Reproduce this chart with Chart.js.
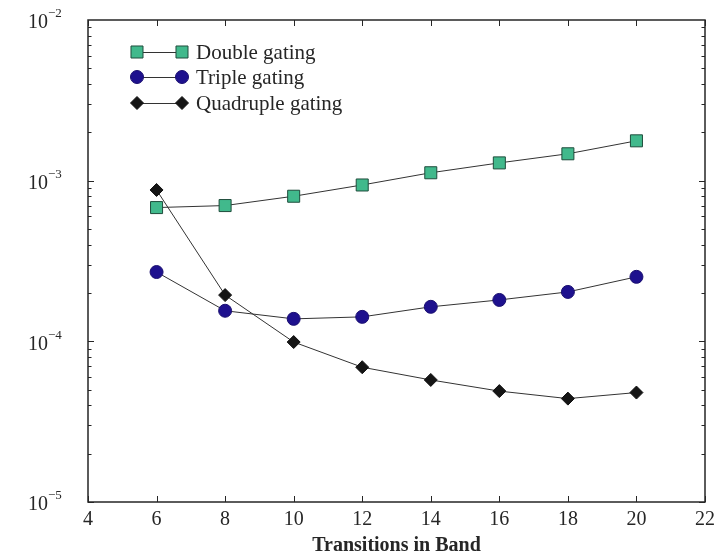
<!DOCTYPE html>
<html>
<head>
<meta charset="utf-8">
<script src="https://cdn.jsdelivr.net/npm/chart.js@4/dist/chart.umd.min.js"></script>
<style>
  html, body { margin: 0; padding: 0; background: #ffffff; }
  #wrap { width: 727px; height: 560px; position: relative; }
</style>
</head>
<body>
<div id="wrap"><canvas id="c" width="727" height="560"></canvas></div>
<script>
// ---- data ----
const transitions = [6, 8, 10, 12, 14, 16, 18, 20];
const doubleGating = [6.8e-4, 7.0e-4, 8.0e-4, 9.4e-4, 1.12e-3, 1.29e-3, 1.47e-3, 1.77e-3];
const tripleGating = [2.7e-4, 1.55e-4, 1.38e-4, 1.42e-4, 1.64e-4, 1.81e-4, 2.03e-4, 2.52e-4];
const quadrupleGating = [8.75e-4, 1.94e-4, 9.9e-5, 6.9e-5, 5.75e-5, 4.9e-5, 4.4e-5, 4.8e-5];
const seriesNames = ['Double gating', 'Triple gating', 'Quadruple gating'];
const xTickValues = [4, 6, 8, 10, 12, 14, 16, 18, 20, 22];
const yDecades = [-5, -4, -3, -2];
const xTitle = 'Transitions in Band';

const FONT = '"Liberation Serif", "Times New Roman", serif';
const INK = '#262626';

const toPoints = arr => transitions.map((x, i) => ({ x: x, y: arr[i] }));

const styles = [
  { pointStyle: 'rect', pointRadius: 8.5, backgroundColor: '#41b98c', borderColor: '#1f4d3c', borderWidth: 1 },
  { pointStyle: 'circle', pointRadius: 6.5, backgroundColor: '#1e118e', borderColor: '#1a0f70', borderWidth: 1 },
  { pointStyle: 'rectRot', pointRadius: 6.5, backgroundColor: '#151515', borderColor: '#111111', borderWidth: 1 }
];
const seriesData = [doubleGating, tripleGating, quadrupleGating];

const datasets = seriesData.map((arr, i) => ({
  label: seriesNames[i],
  data: toPoints(arr),
  showLine: true,
  borderColor: '#333333',
  borderWidth: 1,
  pointStyle: styles[i].pointStyle,
  pointRadius: styles[i].pointRadius,
  pointHoverRadius: styles[i].pointRadius,
  pointBackgroundColor: styles[i].backgroundColor,
  pointBorderColor: styles[i].borderColor,
  pointBorderWidth: styles[i].borderWidth,
  fill: false,
  tension: 0
}));

const framePlugin = {
  id: 'frame',
  beforeDatasetsDraw(chart) {
    const ctx = chart.ctx;
    const a = chart.chartArea;
    const xs = chart.scales.x, ys = chart.scales.y;
    ctx.save();
    ctx.strokeStyle = INK;
    ctx.lineWidth = 1.5;
    ctx.strokeRect(a.left, a.top, a.right - a.left, a.bottom - a.top);
    ctx.lineWidth = 1;
    ctx.beginPath();
    xTickValues.forEach(v => {
      const px = Math.round(xs.getPixelForValue(v)) + 0.5;
      ctx.moveTo(px, a.bottom); ctx.lineTo(px, a.bottom - 6);
      ctx.moveTo(px, a.top); ctx.lineTo(px, a.top + 6);
    });
    for (let e = -5; e < -2; e++) {
      for (let m = 1; m <= 9; m++) {
        const py = Math.round(ys.getPixelForValue(m * Math.pow(10, e))) + 0.5;
        const len = m === 1 ? 6 : 3.5;
        ctx.moveTo(a.left, py); ctx.lineTo(a.left + len, py);
        ctx.moveTo(a.right, py); ctx.lineTo(a.right - len, py);
      }
    }
    ctx.stroke();
    ctx.restore();
  },
  afterDraw(chart) {
    const ctx = chart.ctx;
    const ys = chart.scales.y;
    ctx.save();
    ctx.fillStyle = INK;
    yDecades.forEach(e => {
      const py = ys.getPixelForValue(Math.pow(10, e));
      ctx.font = '20px ' + FONT;
      ctx.textAlign = 'left';
      ctx.textBaseline = 'middle';
      ctx.fillText('10', 28, py + 3);
      ctx.font = '13px ' + FONT;
      ctx.fillText('\u2212' + Math.abs(e), 48, py - 6);
    });
    const rows = [52, 77, 103];
    seriesNames.forEach((name, i) => {
      const y = rows[i];
      ctx.strokeStyle = '#333333';
      ctx.lineWidth = 1;
      ctx.beginPath();
      ctx.moveTo(137, y + 0.5); ctx.lineTo(182, y + 0.5);
      ctx.stroke();
      const opts = { pointStyle: styles[i].pointStyle, radius: styles[i].pointRadius, borderWidth: styles[i].borderWidth, rotation: 0 };
      [137, 182].forEach(x => {
        ctx.fillStyle = styles[i].backgroundColor;
        ctx.strokeStyle = styles[i].borderColor;
        ctx.lineWidth = styles[i].borderWidth;
        Chart.helpers.drawPoint(ctx, opts, x, y);
      });
      ctx.fillStyle = INK;
      ctx.font = '21px ' + FONT;
      ctx.textAlign = 'left';
      ctx.textBaseline = 'middle';
      ctx.fillText(name, 196, y + 1);
    });
    ctx.restore();
  }
};

new Chart(document.getElementById('c'), {
  type: 'scatter',
  data: { datasets: datasets },
  options: {
    responsive: false,
    animation: false,
    devicePixelRatio: 1,
    layout: { padding: { top: 20, right: 22, left: 0, bottom: 0 } },
    plugins: { legend: { display: false }, tooltip: { enabled: false } },
    scales: {
      x: {
        type: 'linear',
        min: 4, max: 22,
        grid: { display: false, drawTicks: false },
        border: { display: false },
        ticks: {
          stepSize: 2,
          padding: 6,
          color: INK,
          font: { family: FONT, size: 20 }
        },
        title: {
          display: true,
          text: xTitle,
          color: INK,
          padding: { top: 0, bottom: 2 },
          font: { family: FONT, size: 20, weight: 'bold' }
        },
        afterFit(scale) { scale.height = 58; }
      },
      y: {
        type: 'logarithmic',
        min: 1e-5, max: 1e-2,
        grid: { display: false, drawTicks: false },
        border: { display: false },
        ticks: { display: false },
        afterFit(scale) { scale.width = 88; }
      }
    }
  },
  plugins: [framePlugin]
});
</script>
</body>
</html>
